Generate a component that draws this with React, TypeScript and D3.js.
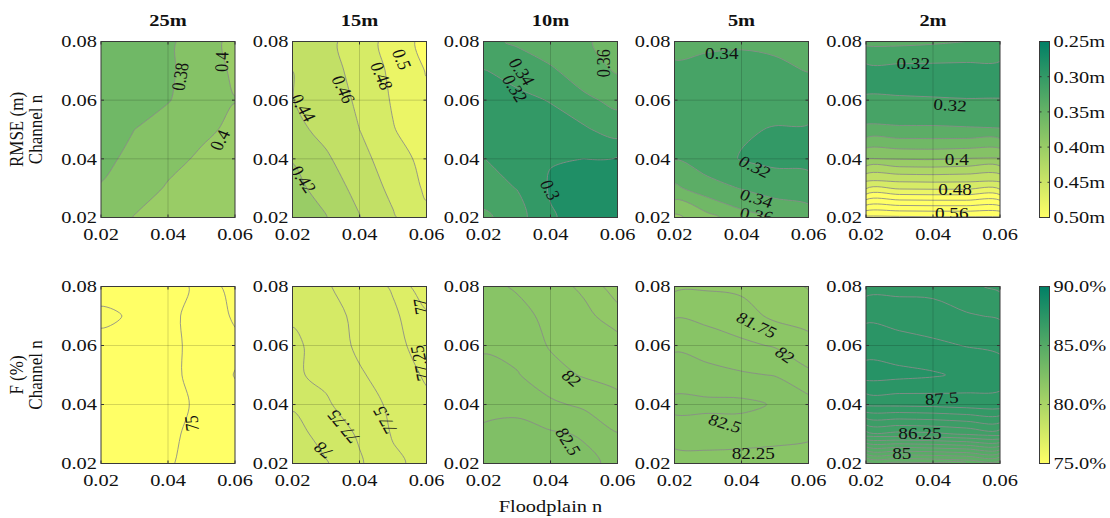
import React from 'react';
import * as d3 from 'd3';

// grid axes (rows of every table run from Channel n = 0.08 at the top down to 0.02)
const floodplainN = [0.02, 0.03, 0.04, 0.05, 0.06];
const channelN = [0.08, 0.07, 0.06, 0.05, 0.04, 0.03, 0.02];
const resolutions = ['25m', '15m', '10m', '5m', '2m'];

// RMSE (m)
const rmse25 = [
  [0.368, 0.371, 0.376, 0.392, 0.405],
  [0.366, 0.370, 0.377, 0.390, 0.403],
  [0.368, 0.373, 0.379, 0.390, 0.3995],
  [0.372, 0.380, 0.388, 0.396, 0.404],
  [0.376, 0.384, 0.394, 0.403, 0.406],
  [0.381, 0.390, 0.402, 0.405, 0.409],
  [0.385, 0.401, 0.406, 0.409, 0.412],
];
const rmse15 = [
  [0.443, 0.454, 0.471, 0.487, 0.507],
  [0.440, 0.452, 0.467, 0.484, 0.501],
  [0.4395, 0.450, 0.463, 0.482, 0.496],
  [0.434, 0.446, 0.460, 0.479, 0.492],
  [0.421, 0.437, 0.454, 0.470, 0.487],
  [0.414, 0.428, 0.447, 0.465, 0.483],
  [0.408, 0.419, 0.439, 0.458, 0.476],
];
const rmse10 = [
  [0.335, 0.343, 0.352, 0.358, 0.366],
  [0.319, 0.327, 0.337, 0.350, 0.362],
  [0.312, 0.315, 0.321, 0.336, 0.345],
  [0.311, 0.310, 0.312, 0.317, 0.330],
  [0.3205, 0.310, 0.301, 0.300, 0.298],
  [0.327, 0.3195, 0.298, 0.294, 0.293],
  [0.345, 0.328, 0.302, 0.292, 0.288],
];
const rmse5 = [
  [0.345, 0.343, 0.342, 0.343, 0.345],
  [0.337, 0.335, 0.335, 0.337, 0.3405],
  [0.331, 0.328, 0.327, 0.327, 0.330],
  [0.330, 0.326, 0.322, 0.319, 0.318],
  [0.339, 0.328, 0.319, 0.315, 0.316],
  [0.364, 0.348, 0.339, 0.331, 0.326],
  [0.405, 0.386, 0.368, 0.357, 0.352],
];
const rmse2 = [
  [0.345, 0.345, 0.343, 0.340, 0.335],
  [0.312, 0.312, 0.312, 0.312, 0.313],
  [0.322, 0.3215, 0.321, 0.3205, 0.3205],
  [0.344, 0.343, 0.343, 0.342, 0.341],
  [0.401, 0.399, 0.398, 0.401, 0.402],
  [0.478, 0.477, 0.476, 0.476, 0.476],
  [0.585, 0.584, 0.583, 0.583, 0.583],
];

// F (%)
const f25 = [
  [75.15, 75.10, 75.05, 74.97, 74.60],
  [75.30, 75.22, 75.06, 74.90, 74.72],
  [75.18, 75.12, 75.06, 74.92, 74.80],
  [75.15, 75.10, 75.05, 74.93, 74.74],
  [75.15, 75.10, 75.07, 74.96, 74.82],
  [75.15, 75.10, 75.05, 74.92, 74.82],
  [75.15, 75.10, 75.02, 74.92, 74.82],
];
const f15 = [
  [77.70, 77.52, 77.40, 77.22, 76.80],
  [77.72, 77.58, 77.45, 77.30, 77.05],
  [77.80, 77.65, 77.45, 77.32, 77.15],
  [77.78, 77.70, 77.53, 77.38, 77.22],
  [77.97, 77.78, 77.62, 77.45, 77.30],
  [78.10, 77.90, 77.72, 77.48, 77.40],
  [78.25, 78.02, 77.78, 77.55, 77.42],
];
const f10 = [
  [82.05, 81.98, 81.85, 81.70, 81.35],
  [82.12, 82.06, 81.95, 81.82, 81.62],
  [82.23, 82.15, 81.98, 81.92, 81.86],
  [82.30, 82.27, 82.08, 81.98, 81.95],
  [82.42, 82.45, 82.30, 82.20, 82.05],
  [82.55, 82.56, 82.53, 82.48, 82.26],
  [82.62, 82.62, 82.60, 82.55, 82.45],
];
const f5 = [
  [81.70, 81.72, 81.70, 81.62, 81.48],
  [81.98, 81.92, 81.85, 81.70, 81.65],
  [82.22, 82.15, 82.05, 81.98, 81.84],
  [82.35, 82.32, 82.28, 82.24, 82.05],
  [82.58, 82.56, 82.56, 82.48, 82.35],
  [82.35, 82.36, 82.36, 82.34, 82.30],
  [82.15, 82.16, 82.14, 82.12, 82.11],
];
const f2 = [
  [87.15, 87.17, 87.18, 87.05, 86.95],
  [87.45, 87.40, 87.35, 87.28, 87.22],
  [87.65, 87.60, 87.55, 87.49, 87.45],
  [87.85, 87.82, 87.78, 87.70, 87.62],
  [87.30, 87.31, 87.33, 87.37, 87.40],
  [86.15, 86.17, 86.20, 86.28, 86.35],
  [84.10, 84.15, 84.20, 84.25, 84.30],
];

const rmseTicks = [0.25, 0.3, 0.35, 0.4, 0.45, 0.5];
const fTicks = [90, 85, 80, 75];

// inline contour labels: text, floodplain n, channel n, rotation
const rmseLabels = [
  [['0.38', 0.0436, 0.068, -82], ['0.4', 0.056, 0.0731, -88], ['0.4', 0.0555, 0.0464, -65]],
  [['0.5', 0.0526, 0.0739, 70], ['0.48', 0.0466, 0.0682, 70], ['0.46', 0.0352, 0.0637, 68], ['0.44', 0.0232, 0.0574, 62], ['0.42', 0.0232, 0.033, 60]],
  [['0.34', 0.0314, 0.0697, 60], ['0.32', 0.0294, 0.064, 62], ['0.36', 0.0558, 0.0726, -90], ['0.3', 0.0399, 0.0294, 65]],
  [['0.34', 0.0341, 0.076, 0], ['0.32', 0.044, 0.0373, 30], ['0.34', 0.0445, 0.0265, 20], ['0.36', 0.0445, 0.0208, 10]],
  [['0.32', 0.0341, 0.0726, 0], ['0.32', 0.0451, 0.0583, 4], ['0.4', 0.0471, 0.0396, 0], ['0.48', 0.0466, 0.0294, 0], ['0.56', 0.0456, 0.0214, 0]],
];
const fLabels = [
  [['75', 0.0471, 0.0336, -95]],
  [['77', 0.0583, 0.0732, -98], ['77.25', 0.0581, 0.054, -100], ['77.5', 0.0476, 0.0347, -115], ['77.75', 0.0352, 0.0325, -125], ['78', 0.0292, 0.0245, -135]],
  [['82', 0.0463, 0.0489, 45], ['82.5', 0.0453, 0.0274, 62]],
  [['81.75', 0.0445, 0.0669, 30], ['82', 0.053, 0.0568, 40], ['82.5', 0.0351, 0.0336, 20], ['82.25', 0.0435, 0.0235, 0]],
  [['87.5', 0.0426, 0.0421, -5], ['86.25', 0.0361, 0.0302, 0], ['85', 0.0307, 0.0235, 0]],
];

const SX = 1.2; // the picture is stretched horizontally
const FONT = "'Liberation Serif', 'Times New Roman', serif";
const panelLeft = [101, 292.5, 483.5, 674.5, 866];
const panelW = 134;
const cbX = 1039.5;
const cbW = 10;

// matlab "summer": t=0 dark teal, t=1 yellow
const summer = (t: number) => {
  const k = Math.max(0, Math.min(1, t));
  return d3.rgb(255 * k, 127.5 + 127.5 * k, 102).formatHex();
};

const rowsCfg = [
  {
    top: 41.5, h: 176, grids: [rmse25, rmse15, rmse10, rmse5, rmse2], step: 0.02,
    t: (v: number) => (v - 0.25) / 0.25, label: 'RMSE (m)', labels: rmseLabels,
    cbDomain: [0.25, 0.5], cbTicks: rmseTicks, fmt: (v: number) => v.toFixed(2) + 'm',
  },
  {
    top: 286.5, h: 177, grids: [f25, f15, f10, f5, f2], step: 0.25,
    t: (v: number) => (90 - v) / 15, label: 'F (%)', labels: fLabels,
    cbDomain: [90, 75], cbTicks: fTicks, fmt: (v: number) => v.toFixed(1) + '%',
  },
];

const Txt = ({ x, y, rot = 0, anchor = 'middle', size = 17, bold = false, sx = SX, children }: any) => (
  <text
    transform={`translate(${x},${y}) scale(${sx},1) rotate(${rot})`}
    textAnchor={anchor}
    dominantBaseline="central"
    fontFamily={FONT}
    fontSize={size}
    fontWeight={bold ? 'bold' : 'normal'}
    fill="#111"
  >
    {children}
  </text>
);

const ringLine = d3.line().curve(d3.curveCatmullRomClosed.alpha(0.5));

const Panel = ({ row, col, cfg }: any) => {
  const left = panelLeft[col];
  const { top, h } = cfg;
  const x = d3.scaleLinear().domain([0.02, 0.06]).range([left, left + panelW]);
  const y = d3.scaleLinear().domain([0.02, 0.08]).range([top + h, top]);
  const grid = cfg.grids[col];
  const values = grid.flat();
  const step = cfg.step;
  const lo = Math.floor(d3.min(values) / step + 1e-9);
  const hi = Math.ceil(d3.max(values) / step - 1e-9);
  const levels = d3.range(lo, hi + 1).map((k) => +(k * step).toFixed(4));
  const contours = d3
    .contours()
    .size([floodplainN.length, channelN.length])
    .thresholds(levels)(values);
  const gdx = floodplainN[1] - floodplainN[0];
  const gdy = channelN[1] - channelN[0];
  const X = (g: number) => x(floodplainN[0] + (g - 0.5) * gdx);
  const Y = (g: number) => y(channelN[0] + (g - 0.5) * gdy);
  const toPath = (mp: any) =>
    mp.coordinates
      .map((poly: any) =>
        poly.map((ring: any) => ringLine(ring.slice(0, -1).map((p: number[]) => [X(p[0]), Y(p[1])]))).join('')
      )
      .join('');
  const clipId = `clip-${row}-${col}`;
  const xt = [0.02, 0.04, 0.06];
  const yt = [0.02, 0.04, 0.06, 0.08];
  const tl = 3;

  return (
    <g>
      <clipPath id={clipId}>
        <rect x={left} y={top} width={panelW} height={h} />
      </clipPath>
      <g clipPath={`url(#${clipId})`}>
        <rect x={left} y={top} width={panelW} height={h} fill={summer(cfg.t(levels[0]))} />
        {contours.map((c: any, i: number) => (
          <path key={'f' + i} d={toPath(c)} fill={summer(cfg.t(c.value))} stroke="none" />
        ))}
        {contours.slice(1).map((c: any, i: number) => (
          <path key={'l' + i} d={toPath(c)} fill="none" stroke="#8a8a8a" strokeWidth={0.85} />
        ))}
        {/* grid */}
        <line x1={x(0.04)} x2={x(0.04)} y1={top} y2={top + h} stroke="#000" strokeOpacity={0.16} />
        {[0.04, 0.06].map((v) => (
          <line key={v} x1={left} x2={left + panelW} y1={y(v)} y2={y(v)} stroke="#000" strokeOpacity={0.16} />
        ))}
        {cfg.labels[col].map((l: any, i: number) => (
          <Txt key={'c' + i} x={x(l[1])} y={y(l[2])} rot={l[3]} size={16}>
            {l[0]}
          </Txt>
        ))}
      </g>
      {/* ticks */}
      {xt.map((v) => (
        <g key={'xt' + v}>
          <line x1={x(v)} x2={x(v)} y1={top + h} y2={top + h - tl} stroke="#333" />
          <line x1={x(v)} x2={x(v)} y1={top} y2={top + tl} stroke="#333" />
        </g>
      ))}
      {yt.map((v) => (
        <g key={'yt' + v}>
          <line x1={left} x2={left + tl} y1={y(v)} y2={y(v)} stroke="#333" />
          <line x1={left + panelW} x2={left + panelW - tl} y1={y(v)} y2={y(v)} stroke="#333" />
        </g>
      ))}
      <rect x={left} y={top} width={panelW} height={h} fill="none" stroke="#3a3a3a" strokeWidth={1} />
      {xt.map((v) => (
        <Txt key={'xl' + v} x={x(v)} y={top + h + 16.5}>
          {v.toFixed(2)}
        </Txt>
      ))}
      {yt.map((v) => (
        <Txt key={'yl' + v} x={left - 4} y={y(v)} anchor="end">
          {v.toFixed(2)}
        </Txt>
      ))}
      {row === 0 && (
        <Txt x={left + panelW / 2} y={20} bold>
          {resolutions[col]}
        </Txt>
      )}
    </g>
  );
};

const ColorBar = ({ row, cfg }: any) => {
  const { top, h } = cfg;
  const s = d3.scaleLinear().domain(cfg.cbDomain).range([top, top + h]);
  const gid = `cb-${row}`;
  return (
    <g>
      <defs>
        <linearGradient id={gid} x1="0" y1="0" x2="0" y2="1">
          <stop offset="0" stopColor={summer(cfg.t(cfg.cbDomain[0]))} />
          <stop offset="1" stopColor={summer(cfg.t(cfg.cbDomain[1]))} />
        </linearGradient>
      </defs>
      <rect x={cbX} y={top} width={cbW} height={h} fill={`url(#${gid})`} stroke="#3a3a3a" strokeWidth={1} />
      {cfg.cbTicks.map((v: number) => (
        <g key={v}>
          <line x1={cbX} x2={cbX + 2} y1={s(v)} y2={s(v)} stroke="#333" />
          <line x1={cbX + cbW} x2={cbX + cbW - 2} y1={s(v)} y2={s(v)} stroke="#333" />
          <Txt x={cbX + cbW + 4} y={s(v)} anchor="start">
            {cfg.fmt(v)}
          </Txt>
        </g>
      ))}
    </g>
  );
};

export default function App() {
  return (
    <svg
      width={1110}
      height={518}
      style={{ position: 'absolute', left: 0, top: 0, background: '#fff' }}
    >
      {rowsCfg.map((cfg, r) => (
        <g key={r}>
          {resolutions.map((_, c) => (
            <Panel key={c} row={r} col={c} cfg={cfg} />
          ))}
          <ColorBar row={r} cfg={cfg} />
          <Txt x={17} y={cfg.top + cfg.h / 2} rot={-90} sx={1.05}>
            {cfg.label}
          </Txt>
          <Txt x={36} y={cfg.top + cfg.h / 2} rot={-90} sx={1.05}>
            Channel n
          </Txt>
        </g>
      ))}
      <Txt x={panelLeft[2] + panelW / 2} y={506}>
        Floodplain n
      </Txt>
    </svg>
  );
}
